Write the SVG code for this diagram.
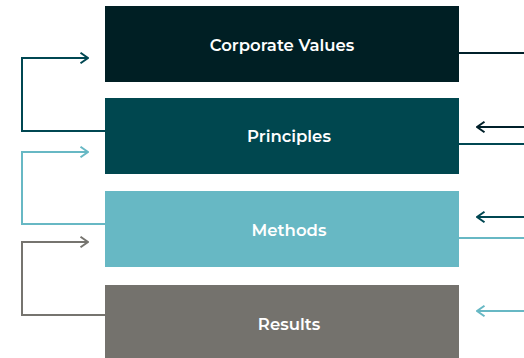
<svg xmlns="http://www.w3.org/2000/svg" width="524" height="358" viewBox="0 0 524 358">
<style>
.box text{font-family:"Montserrat","Open Sans","Liberation Sans",sans-serif;font-weight:600;font-size:16.5px;fill:#ffffff;text-anchor:middle}
.c{fill:none;stroke-width:2}
</style>
<defs>
<marker id="a1" viewBox="0 0 10 12" refX="9" refY="6" markerWidth="10" markerHeight="12" markerUnits="userSpaceOnUse" orient="auto"><path d="M1.5,0.8 L9,6 L1.5,11.2" fill="none" stroke="#004752" stroke-width="2"/></marker>
<marker id="a2" viewBox="0 0 10 12" refX="9" refY="6" markerWidth="10" markerHeight="12" markerUnits="userSpaceOnUse" orient="auto"><path d="M1.5,0.8 L9,6 L1.5,11.2" fill="none" stroke="#67b8c4" stroke-width="2"/></marker>
<marker id="a3" viewBox="0 0 10 12" refX="9" refY="6" markerWidth="10" markerHeight="12" markerUnits="userSpaceOnUse" orient="auto"><path d="M1.5,0.8 L9,6 L1.5,11.2" fill="none" stroke="#76746f" stroke-width="2"/></marker>
<marker id="a0" viewBox="0 0 10 12" refX="9" refY="6" markerWidth="10" markerHeight="12" markerUnits="userSpaceOnUse" orient="auto"><path d="M1.5,0.8 L9,6 L1.5,11.2" fill="none" stroke="#00202a" stroke-width="2"/></marker>
</defs>
<rect width="524" height="358" fill="#ffffff"/>
<g id="corporate-values" class="box"><rect x="105" y="6" width="354" height="76" fill="#001f24"/><text x="282" y="51">Corporate Values</text></g>
<g id="principles" class="box"><rect x="105" y="98" width="354" height="76" fill="#00474f"/><text x="289" y="142">Principles</text></g>
<g id="methods" class="box"><rect x="105" y="191" width="354" height="76" fill="#67b8c4"/><text x="289" y="236">Methods</text></g>
<g id="results" class="box"><rect x="105" y="285" width="354" height="76" fill="#74726d"/><text x="289" y="330">Results</text></g>
<g id="connectors">
<path class="c" d="M105,131 H22 V58 H88" stroke="#004752" marker-end="url(#a1)"/>
<path class="c" d="M105,224 H22 V152 H88" stroke="#67b8c4" marker-end="url(#a2)"/>
<path class="c" d="M105,315 H22 V242 H88" stroke="#76746f" marker-end="url(#a3)"/>
<path class="c" d="M459,53 H524" stroke="#00202a"/>
<path class="c" d="M524,127 H477" stroke="#00202a" marker-end="url(#a0)"/>
<path class="c" d="M459,144 H524" stroke="#004752"/>
<path class="c" d="M524,217 H477" stroke="#004752" marker-end="url(#a1)"/>
<path class="c" d="M459,238 H524" stroke="#67b8c4"/>
<path class="c" d="M524,311 H477" stroke="#67b8c4" marker-end="url(#a2)"/>
</g>
</svg>
